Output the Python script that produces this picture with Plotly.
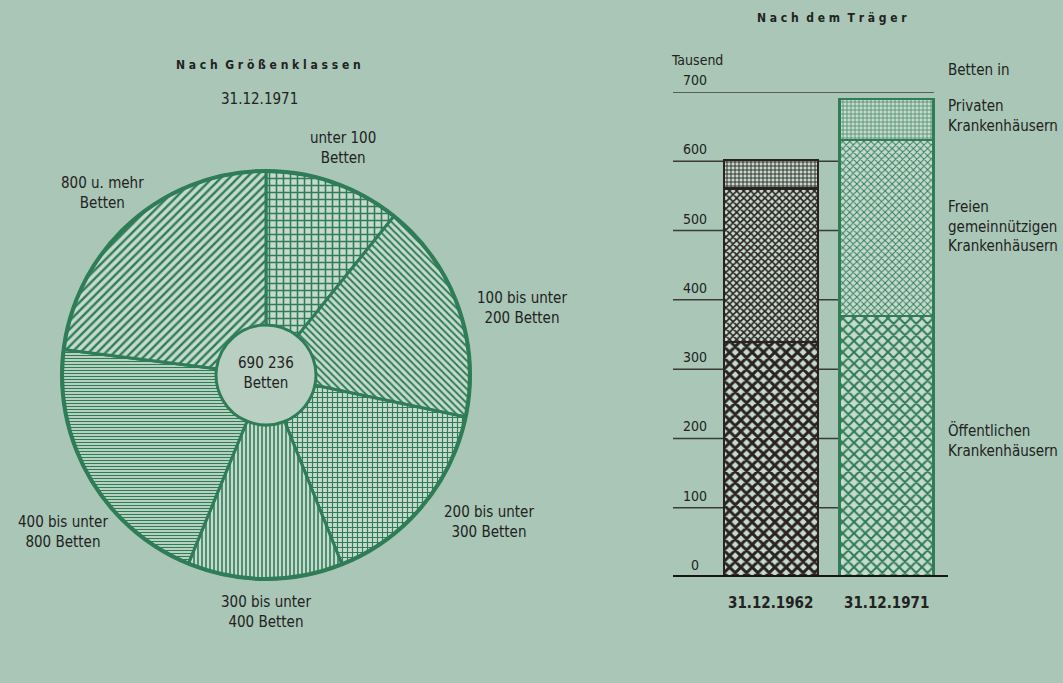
import plotly.graph_objects as go

# ---------------- data ----------------
size_classes = ["unter 100 Betten", "100 bis unter 200 Betten", "200 bis unter 300 Betten",
                "300 bis unter 400 Betten", "400 bis unter 800 Betten", "800 u. mehr Betten"]
size_values = [74.5, 120.8, 107.9, 84.8, 143.4, 158.8]   # Tausend Betten (approx.)
size_patterns = ["+", "\\", "+", "|", "-", "/"]
size_pattern_sizes = [7, 5, 5, 4, 3, 6]

bar_dates = ["31.12.1962", "31.12.1971"]
public_beds = [339, 377]
free_beds = [222, 254]
private_beds = [41, 59]
y_ticks = [0, 100, 200, 300, 400, 500, 600, 700]

BG = "#a9c6b6"
GREEN = "#2f7d57"
LIGHT = "#c6dacd"
DARK = "#2a2222"
TXT = "#222222"
FONT = "Liberation Sans Narrow, DejaVu Sans Condensed, Arial Narrow, sans-serif"

W, H = 1063, 683
def px(x):
    return x / W
def py(y):
    return 1 - y / H

fig = go.Figure()

# ---------------- pie ----------------
cx, cy, r = 266, 375, 204
hole = 0.245
fig.add_shape(type="circle", xref="paper", yref="paper",
              x0=px(cx - r * hole), x1=px(cx + r * hole),
              y0=py(cy + r * hole), y1=py(cy - r * hole),
              fillcolor="#b8cfc1", line=dict(width=0), layer="below")
fig.add_trace(go.Pie(
    labels=size_classes, values=size_values, sort=False, direction="clockwise",
    rotation=0, hole=hole, textinfo="none", hoverinfo="label+value",
    showlegend=False,
    domain=dict(x=[px(cx - r), px(cx + r)], y=[py(cy + r), py(cy - r)]),
    marker=dict(colors=[LIGHT] * 6,
                line=dict(color=GREEN, width=3),
                pattern=dict(shape=size_patterns, fgcolor=GREEN, bgcolor=LIGHT,
                             size=size_pattern_sizes, solidity=0.4, fillmode="replace")),
))
# thicker outer ring
fig.add_shape(type="circle", xref="paper", yref="paper",
              x0=px(cx - r), x1=px(cx + r), y0=py(cy + r), y1=py(cy - r),
              line=dict(color=GREEN, width=4), layer="above")

# ---------------- bars ----------------
bar_w = 0.814
styles = [
    dict(fg=DARK, line=DARK, sols=(0.6, 0.55, 0.4)),
    dict(fg=GREEN, line=GREEN, sols=(0.45, 0.35, 0.3)),
]
for i, st in enumerate(styles):
    xs = [bar_dates[i]]
    for vals, shape, size, sol in [(public_beds, "x", 8, st["sols"][0]),
                                   (free_beds, "x", 5, st["sols"][1]),
                                   (private_beds, "+", 4, st["sols"][2])]:
        fig.add_trace(go.Bar(x=xs, y=[vals[i]], width=bar_w, showlegend=False,
                             marker=dict(color=LIGHT, line=dict(color=st["line"], width=2.5),
                                         pattern=dict(shape=shape, fgcolor=st["fg"], bgcolor=LIGHT,
                                                      size=size, solidity=sol,
                                                      fillmode="replace"))))

x_lo, x_hi = -0.848, 1.532
fig.update_layout(
    width=W, height=H, paper_bgcolor=BG, plot_bgcolor="rgba(0,0,0,0)",
    margin=dict(l=0, r=0, t=0, b=0), barmode="stack",
    font=dict(family=FONT, color=TXT, size=15),
    xaxis=dict(domain=[px(673), px(948)], range=[x_lo, x_hi], type="category",
               showgrid=False, zeroline=False, showline=False, showticklabels=False),
    yaxis=dict(domain=[py(577), py(92)], range=[0, 700], showgrid=False,
               zeroline=False, showline=False, showticklabels=False),
)

# tick lines (behind bars)
for t in y_ticks[1:-1]:
    fig.add_shape(type="line", xref="x", yref="y", x0=x_lo, x1=1, y0=t, y1=t,
                  line=dict(color="#3a3a3a", width=1.5), layer="below")
fig.add_shape(type="line", xref="x", yref="y", x0=-0.87, x1=1.41, y0=700, y1=700,
              line=dict(color="#3a3a3a", width=1.5), layer="below")
fig.add_shape(type="line", xref="x", yref="y", x0=x_lo, x1=x_hi, y0=0, y1=0,
              line=dict(color="#1a1414", width=4), layer="above")

def ann(x, y, text, size=15, xanchor="center", align="center", **kw):
    fig.add_annotation(x=x, y=y, text=text, showarrow=False, xanchor=xanchor,
                       yanchor="middle", align=align, font=dict(size=size), **kw)

# tick labels
for t in y_ticks:
    ann(px(695), t, str(t), size=14, xref="paper", yref="y", yshift=12)
ann(px(697), py(60), "Tausend", size=14, xref="paper", yref="paper")
for d in bar_dates:
    ann(d, py(603), "<b>" + d + "</b>", size=15, xref="x", yref="paper")

# legend texts on the right
right_texts = [
    ("Betten in", 70),
    ("Privaten<br>Krankenhäusern", 116),
    ("Freien<br>gemeinnützigen<br>Krankenhäusern", 226),
    ("Öffentlichen<br>Krankenhäusern", 440),
]
for txt, yy in right_texts:
    ann(px(946), py(yy), txt, size=15, xanchor="left", align="left",
        xref="paper", yref="paper")

# titles
ann(px(832), py(18), "<b>N a c h  d e m  T r ä g e r</b>", size=12,
    xref="paper", yref="paper")
ann(px(268), py(65), "<b>N a c h  G r ö ß e n k l a s s e n</b>", size=12,
    xref="paper", yref="paper")
ann(px(259), py(99), "31.12.1971", size=15, xref="paper", yref="paper")

# pie labels
pie_labels = [
    ("unter 100<br>Betten", 343, 148),
    ("100 bis unter<br>200 Betten", 522, 308),
    ("200 bis unter<br>300 Betten", 489, 522),
    ("300 bis unter<br>400 Betten", 266, 612),
    ("400 bis unter<br>800 Betten", 63, 532),
    ("800 u. mehr<br>Betten", 102, 193),
    ("690 236<br>Betten", 266, 373),
]
for txt, xx, yy in pie_labels:
    ann(px(xx), py(yy), txt, size=15, xref="paper", yref="paper")

fig.write_html("out.html")
